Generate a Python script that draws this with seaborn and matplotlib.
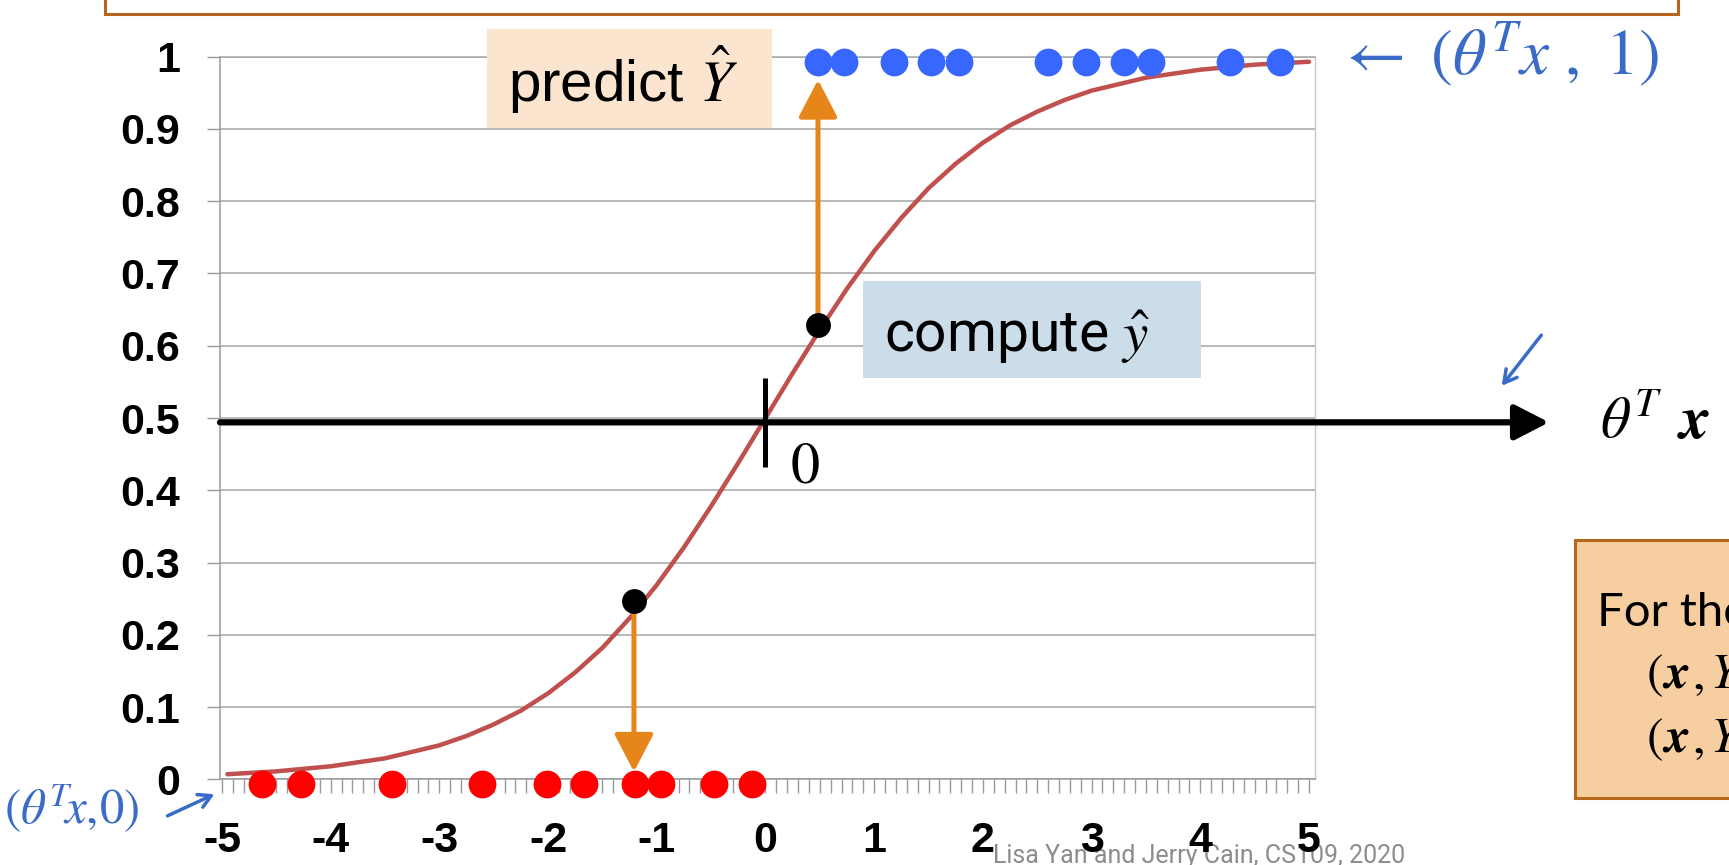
import numpy as np
import matplotlib
matplotlib.use("Agg")
import matplotlib.pyplot as plt
import seaborn as sns
from matplotlib.patches import Rectangle, FancyArrowPatch
from matplotlib.ticker import MultipleLocator

# ---------------- data ----------------
curve_x = [-4.95, -4.5, -4.0, -3.5, -3.0, -2.75, -2.5, -2.25, -2.0, -1.75, -1.5,
           -1.25, -1.0, -0.75, -0.5, -0.25, 0.0, 0.25, 0.5, 0.75, 1.0, 1.25, 1.5,
           1.75, 2.0, 2.25, 2.5, 2.75, 3.0, 3.5, 4.0, 4.5, 5.0]
curve_y = [0.007, 0.011, 0.018, 0.029, 0.047, 0.060, 0.076, 0.095, 0.119, 0.148,
           0.182, 0.223, 0.269, 0.321, 0.378, 0.438, 0.500, 0.562, 0.622, 0.679,
           0.731, 0.777, 0.818, 0.852, 0.881, 0.905, 0.924, 0.940, 0.953, 0.971,
           0.982, 0.989, 0.993]

red_x = [-4.63, -4.27, -3.44, -2.61, -2.01, -1.67, -1.20, -0.96, -0.47, -0.12]
red_y = [-0.007, -0.007, -0.007, -0.007, -0.007, -0.007, -0.007, -0.007, -0.007, -0.007]

blue_x = [0.48, 0.72, 1.18, 1.52, 1.78, 2.60, 2.95, 3.30, 3.55, 4.27, 4.73]
blue_y = [0.992, 0.992, 0.992, 0.992, 0.992, 0.992, 0.992, 0.992, 0.992, 0.992, 0.992]

pred_x = [0.483, -1.21]
pred_y = [0.629, 0.247]
arrow_tip_y = [0.968, 0.0105]

x_ticks = [-5, -4, -3, -2, -1, 0, 1, 2, 3, 4, 5]
x_labels = ['-5', '-4', '-3', '-2', '-1', '0', '1', '2', '3', '4', '5']
y_ticks = [0, 0.1, 0.2, 0.3, 0.4, 0.5, 0.6, 0.7, 0.8, 0.9, 1.0]
y_labels = ['0', '0.1', '0.2', '0.3', '0.4', '0.5', '0.6', '0.7', '0.8', '0.9', '1']

decision_y = 0.494

# ---------------- style ----------------
sns.set_theme(style="white")
plt.rcParams['axes.unicode_minus'] = False
plt.rcParams['mathtext.fontset'] = 'stix'
plt.rcParams['font.family'] = ['Liberation Sans', 'DejaVu Sans']
plt.rcParams['text.color'] = 'black'
plt.rcParams['xtick.color'] = 'black'
plt.rcParams['ytick.color'] = 'black'

W, H = 1729, 865
def fx(x):
    return x / W
def fy(y):
    return 1 - y / H

fig = plt.figure(figsize=(W / 100, H / 100), dpi=100)
fig.patch.set_facecolor('white')
ax = fig.add_axes([fx(220), fy(779.3), (1315 - 220) / W, (779.3 - 56.7) / H])
ax.set_facecolor('white')
ax.set_xlim(-5.018, 5.055)
ax.set_ylim(0, 1)

GRID = '#A6A6A6'
AXC = '#999999'
ax.set_axisbelow(True)
ax.yaxis.grid(True, color=GRID, lw=1.1)
ax.xaxis.grid(False)
for side in ['left', 'bottom']:
    ax.spines[side].set_color(AXC)
    ax.spines[side].set_linewidth(1.1)
ax.spines['right'].set_color('#C8C8C8')
ax.spines['right'].set_linewidth(1.0)
ax.spines['top'].set_color(GRID)
ax.spines['top'].set_linewidth(1.1)

ax.set_xticks(x_ticks, x_labels, fontsize=31, fontweight='bold', family='Liberation Sans')
ax.set_yticks(y_ticks, y_labels, fontsize=31, fontweight='bold', family='Liberation Sans')
ax.xaxis.set_minor_locator(MultipleLocator(0.1))
ax.tick_params(axis='x', which='both', direction='out', length=10, width=1.0,
               color=AXC, labelcolor='black', pad=20, bottom=True)
ax.tick_params(axis='y', which='major', direction='out', length=9.6, width=1.0,
               color=AXC, labelcolor='black', pad=19, left=True)
ax.set_xlabel('')
ax.set_ylabel('')

# sigmoid curve
sns.lineplot(x=curve_x, y=curve_y, ax=ax, color='#C0504D', lw=3.2, zorder=2)

# data points
sns.scatterplot(x=red_x, y=red_y, ax=ax, color='#FF0000', s=400, linewidth=0,
                zorder=3, clip_on=False)
sns.scatterplot(x=blue_x, y=blue_y, ax=ax, color='#3867FF', s=400, linewidth=0,
                zorder=3, clip_on=False)

# orange prediction arrows
for bx, by, ty in zip(pred_x, pred_y, arrow_tip_y):
    ax.annotate('', xy=(bx, ty), xytext=(bx, by),
                arrowprops=dict(arrowstyle='-|>,head_length=23,head_width=12',
                                mutation_scale=1, lw=3.6, color='#E6851A',
                                shrinkA=0, shrinkB=0),
                zorder=4, annotation_clip=False)
sns.scatterplot(x=pred_x, y=pred_y, ax=ax, color='black', s=320, linewidth=0,
                zorder=6, clip_on=False)

# black theta^T x axis arrow and zero tick
ax.annotate('', xy=(7.208, decision_y), xytext=(-5.018, decision_y),
            arrowprops=dict(arrowstyle='-|>,head_length=21,head_width=10.8',
                            mutation_scale=1, lw=4.5, color='black',
                            shrinkA=0, shrinkB=0),
            zorder=5, annotation_clip=False)
ax.plot([0, 0], [0.432, 0.555], color='black', lw=3.6, zorder=5,
        solid_capstyle='butt')

# ---------------- slide decorations ----------------
# top box edge
fig.add_artist(Rectangle((fx(105), fy(14.3)), (1678 - 105) / W, 60 / H,
                         transform=fig.transFigure, facecolor='white',
                         edgecolor='#B4641E', lw=2.2, zorder=2))

# predict box
fig.add_artist(Rectangle((fx(487), fy(128)), (772 - 487) / W, (128 - 29) / H,
                         transform=fig.transFigure, facecolor='#FBE5CE',
                         edgecolor='none', zorder=2))
fig.text(fx(508), fy(102), r'predict $\hat{Y}$', fontsize=42, color='black',
         family='Liberation Sans', va='baseline', ha='left', zorder=3)

# compute box
fig.add_artist(Rectangle((fx(863), fy(378)), (1201 - 863) / W, (378 - 281) / H,
                         transform=fig.transFigure, facecolor='#CBDDE9',
                         edgecolor='none', zorder=2))
fig.text(fx(884), fy(352), r'compute $\hat{y}$', fontsize=41, color='black',
         family='Roboto', va='baseline', ha='left', zorder=3)

# zero label
fig.text(fx(791), fy(482), '0', family='STIXGeneral', fontsize=42,
         color='black', va='baseline', ha='left', zorder=3)

# theta^T x label
fig.text(fx(1600), fy(438), r'$\theta^{T}$', fontsize=42, color='black',
         va='baseline', ha='left', zorder=3)
fig.text(fx(1680), fy(438), 'x', family='STIXGeneral', fontstyle='italic',
         fontweight='bold', fontsize=44, color='black', va='baseline',
         ha='left', zorder=3)

# bottom-right orange box
fig.add_artist(Rectangle((fx(1575), fy(798)), (1800 - 1575) / W, (798 - 540) / H,
                         transform=fig.transFigure, facecolor='#F7CEA0',
                         edgecolor='#B5691F', lw=2.2, zorder=2))
fig.text(fx(1597), fy(626), 'For the', family='Lato', fontsize=34,
         color='black', va='baseline', ha='left', zorder=3)
for base in [688, 752]:
    fig.text(fx(1647), fy(base), '(', family='STIXGeneral', fontsize=36,
             color='black', va='baseline', ha='left', zorder=3)
    fig.text(fx(1664), fy(base), 'x', family='STIXGeneral', fontstyle='italic',
             fontweight='bold', fontsize=36, color='black', va='baseline',
             ha='left', zorder=3)
    fig.text(fx(1692), fy(base), ',', family='STIXGeneral', fontsize=36,
             color='black', va='baseline', ha='left', zorder=3)
    fig.text(fx(1710), fy(base), 'Y', family='STIXGeneral', fontstyle='italic',
             fontsize=36, color='black', va='baseline', ha='left', zorder=3)

# handwritten blue annotations
BLUE = '#3A6BC8'
fig.text(fx(1336), fy(54), r'$\leftarrow\ (\theta^{T}x\ ,\ 1)$', color=BLUE,
         fontsize=47, va='center', ha='left', zorder=3)
fig.text(fx(4), fy(808), r'$(\theta^{T}\!x,\!0)$', color=BLUE, fontsize=35,
         va='center', ha='left', zorder=3)
fig.add_artist(FancyArrowPatch(posA=(fx(165), fy(817)), posB=(fx(217), fy(793)),
                               transform=fig.transFigure,
                               arrowstyle='->,head_length=9,head_width=5',
                               mutation_scale=1, lw=2.5, color=BLUE, zorder=3))
fig.add_artist(FancyArrowPatch(posA=(fx(1543), fy(333)), posB=(fx(1500), fy(388)),
                               transform=fig.transFigure,
                               arrowstyle='->,head_length=9,head_width=5',
                               mutation_scale=1, lw=2.5, color=BLUE, zorder=3))

# footer
fig.text(fx(993), fy(863), 'Lisa Yan and Jerry Cain, CS109, 2020',
         family='Roboto', fontsize=18, color='#8C8C8C', va='baseline',
         ha='left', zorder=-1)

fig.savefig('out.png', dpi=100)
